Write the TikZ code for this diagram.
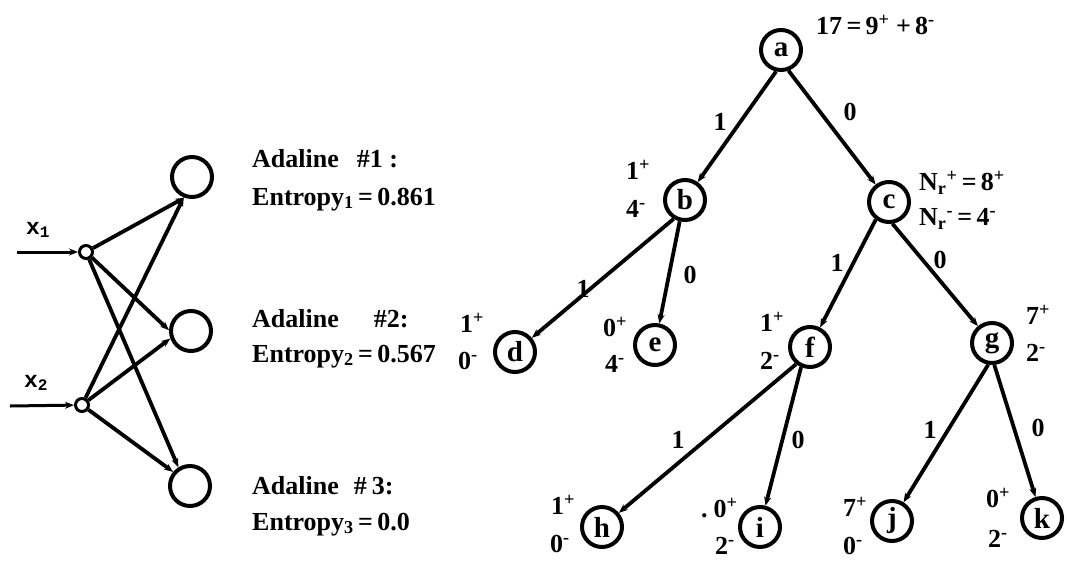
\documentclass[tikz,border=0pt]{standalone}
\usepackage{fontspec}
\setmainfont{Liberation Serif}
\newfontfamily\inputfont{Liberation Mono}
\usetikzlibrary{arrows.meta}

\newcommand{\pp}[1]{#1\textsuperscript{+}}
\newcommand{\mm}[1]{#1\textsuperscript{-}}

\begin{document}
\begin{tikzpicture}[x=1pt,y=-1pt,
  every node/.style={font=\bfseries\fontsize{26}{28}\selectfont, inner sep=0pt},
  outcirc/.style={draw, circle, line width=4pt, minimum size=40pt},
  incirc/.style={draw, circle, line width=3pt, minimum size=13pt},
  tnode/.style={draw, circle, line width=4pt, minimum size=40pt,
    font=\bfseries\fontsize{29}{30}\selectfont},
  wire/.style={line width=3.8pt, -{Stealth[length=9pt,width=7pt]}},
  feed/.style={line width=3pt, -{Stealth[length=9pt,width=7pt]}},
  tedge/.style={line width=3.8pt, -{Stealth[length=9pt,width=7pt]}},
  cnt/.style={anchor=mid west},
  elab/.style={anchor=center},
  caption/.style={anchor=base west},
]
\useasboundingbox (0,0) rectangle (1067,565);

% ---------- Adaline network ----------
\node[incirc] (x1) at (86,252) {};
\node[incirc] (x2) at (82,405) {};
\node[outcirc] (o1) at (192,177) {};
\node[outcirc] (o2) at (191,331) {};
\node[outcirc] (o3) at (190,486) {};

\coordinate (s1) at (17,252);
\coordinate (s2) at (10,406);
\draw[feed] (s1) -- (x1);
\draw[feed] (s2) -- (x2);
\node (lx1) at (38,230) {\fontsize{23}{24}\inputfont x\textsubscript{1}};
\node (lx2) at (36,383) {\fontsize{23}{24}\inputfont x\textsubscript{2}};

% every input feeds every Adaline
\draw[wire] (x1) -- (o1.250);
\draw[wire] (x2) -- (o1.248);
\draw[wire] (x1) -- (o2.178);
\draw[wire] (x2) -- (o2.200);
\draw[wire] (x1) -- (o3.122);
\draw[wire] (x2) -- (o3.140);

\node[caption] (ad1) at (252,167) {Adaline\hspace{18pt}\#1 :};
\node[caption] (en1) at (252,205) {Entropy\textsubscript{1}\,=\,0.861};
\node[caption] (ad2) at (252,327) {Adaline\hspace{35pt}\#2:};
\node[caption] (en2) at (252,362) {Entropy\textsubscript{2}\,=\,0.567};
\node[caption] (ad3) at (252,494) {Adaline\hspace{15pt}\#\hspace{5pt}3:};
\node[caption] (en3) at (252,530) {Entropy\textsubscript{3}\,=\,0.0};

% ---------- decision tree ----------
\node[tnode] (a) at (781,50) {a};
\node[tnode] (b) at (685,200) {b};
\node[tnode] (c) at (889,202) {c};
\node[tnode] (d) at (515,352) {d};
\node[tnode] (e) at (655,345) {e};
\node[tnode] (f) at (810,347) {f};
\node[tnode] (g) at (992,343) {g};
\node[tnode] (h) at (602,527) {h};
\node[tnode] (i) at (760,527) {i};
\node[tnode] (j) at (892,521) {j};
\node[tnode] (k) at (1042,518) {k};

\draw[tedge] (a.257) -- (b);
\draw[tedge] (a.290) -- (c);
\draw[tedge] (b.239) -- (d);
\draw[tedge] (b.256) -- (e);
\draw[tedge] (c.233) -- (f);
\draw[tedge] (c.279) -- (g);
\draw[tedge] (f.231) -- (h);
\draw[tedge] (f.246) -- (i);
\draw[tedge] (g.260) -- (j);
\draw[tedge] (g.276) -- (k);

% branch values
\node[elab] (lab) at (720,122) {1};
\node[elab] (lac) at (850,112) {0};
\node[elab] (lbd) at (583,289) {1};
\node[elab] (lbe) at (690,275) {0};
\node[elab] (lcf) at (837,263) {1};
\node[elab] (lcg) at (940,260) {0};
\node[elab] (lfh) at (678,440) {1};
\node[elab] (lfi) at (798,440) {0};
\node[elab] (lgj) at (930,430) {1};
\node[elab] (lgk) at (1038,428) {0};

% class counts
\node[cnt] (na) at (816,32) {17\,=\,\pp{9} +\,\mm{8}};
\node[cnt] (nc1) at (919,188) {N\textsubscript{r}\textsuperscript{+}\,=\,\pp{8}};
\node[cnt] (nc2) at (919,223) {N\textsubscript{r}\textsuperscript{-}\,=\,\mm{4}};
\node[cnt] (nb1) at (626,177) {\pp{1}};
\node[cnt] (nb2) at (626,215) {\mm{4}};
\node[cnt] (nd1) at (460,330) {\pp{1}};
\node[cnt] (nd2) at (458,367) {\mm{0}};
\node[cnt] (ne1) at (603,334) {\pp{0}};
\node[cnt] (ne2) at (605,370) {\mm{4}};
\node[cnt] (nf1) at (760,329) {\pp{1}};
\node[cnt] (nf2) at (760,367) {\mm{2}};
\node[cnt] (ng1) at (1026,322) {\pp{7}};
\node[cnt] (ng2) at (1026,359) {\mm{2}};
\node[cnt] (nh1) at (551,512) {\pp{1}};
\node[cnt] (nh2) at (550,550) {\mm{0}};
\node[cnt] (ni1) at (701,515) {.\hspace{6pt}\pp{0}};
\node[cnt] (ni2) at (715,552) {\mm{2}};
\node[cnt] (nj1) at (843,514) {\pp{7}};
\node[cnt] (nj2) at (843,552) {\mm{0}};
\node[cnt] (nk1) at (986,505) {\pp{0}};
\node[cnt] (nk2) at (988,545) {\mm{2}};
\end{tikzpicture}
\end{document}
